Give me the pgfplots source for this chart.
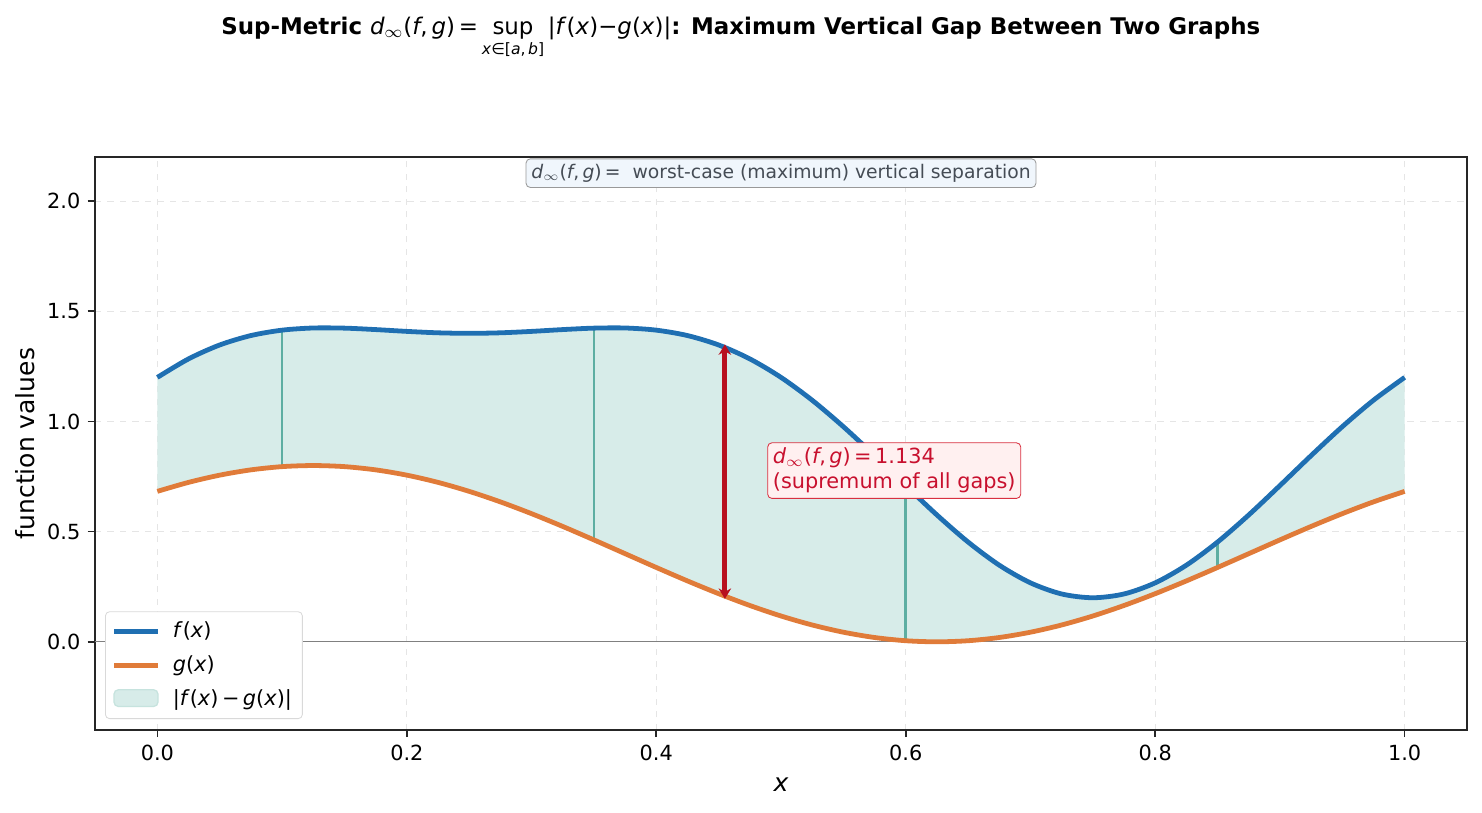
\documentclass[border=0pt]{standalone}
\usepackage{fontspec}
\setmainfont{DejaVu Sans}
\usepackage{pgfplots}
\usepackage{pgfplotstable}
\pgfplotsset{compat=1.18}
\usepgfplotslibrary{fillbetween}
\usetikzlibrary{arrows.meta}
\definecolor{fblue}{HTML}{1F6FB2}
\definecolor{gorange}{HTML}{E07B39}
\definecolor{fillteal}{HTML}{D7ECE9}
\definecolor{vteal}{HTML}{5DAEA2}
\definecolor{arrred}{HTML}{B8101F}
\definecolor{boxred}{HTML}{D83040}
\definecolor{txtred}{HTML}{C8102E}
\definecolor{boxblue}{HTML}{F0F6FC}
\definecolor{txtgray}{HTML}{454C55}
\newcommand{\mi}[1]{\textit{#1}}
\newcommand{\dinf}{\mi{d}$_\infty$(\mi{f},\,\mi{g})}
\pgfplotsset{my line legend/.style={legend image code/.code={\draw[##1] (0cm,0cm) -- (0.74cm,0cm);}}}
\pgfplotstableread{
x f g
0.000 1.20000 0.68284
0.025 1.28407 0.72361
0.050 1.34721 0.75640
0.075 1.38995 0.78042
0.100 1.41447 0.79508
0.125 1.42427 0.80000
0.150 1.42361 0.79508
0.175 1.41705 0.78042
0.200 1.40884 0.75640
0.225 1.40240 0.72361
0.250 1.40000 0.68284
0.275 1.40240 0.63512
0.300 1.40884 0.58160
0.325 1.41705 0.52361
0.350 1.42361 0.46257
0.375 1.42427 0.40000
0.400 1.41447 0.33743
0.425 1.38995 0.27639
0.450 1.34721 0.21840
0.475 1.28407 0.16488
0.500 1.20000 0.11716
0.525 1.09635 0.07639
0.550 0.97639 0.04360
0.575 0.84517 0.01958
0.600 0.70913 0.00492
0.625 0.57573 0.00000
0.650 0.45279 0.00492
0.675 0.34783 0.01958
0.700 0.26756 0.04360
0.725 0.21718 0.07639
0.750 0.20000 0.11716
0.775 0.21718 0.16488
0.800 0.26756 0.21840
0.825 0.34783 0.27639
0.850 0.45279 0.33743
0.875 0.57573 0.40000
0.900 0.70913 0.46257
0.925 0.84517 0.52361
0.950 0.97639 0.58160
0.975 1.09635 0.63512
1.000 1.20000 0.68284
}\datatable
\begin{document}
\begin{tikzpicture}
\begin{axis}[
  scale only axis, width=658.6pt, height=275pt,
  xmin=-0.05, xmax=1.05, ymin=-0.4, ymax=2.2,
  xtick={0,0.2,0.4,0.6,0.8,1.0},
  ytick={0,0.5,1,1.5,2},
  xtick pos=left, ytick pos=left,
  /pgf/number format/assume math mode=true,
  /pgf/number format/fixed, /pgf/number format/fixed zerofill, /pgf/number format/precision=1,
  ticklabel style={font=\fontsize{10}{12}\selectfont},
  tick align=outside, major tick length=3.5pt,
  tick style={black!85, line width=0.8pt},
  axis line style={black!85, line width=0.8pt},
  grid=major, grid style={dashed, color=black!10, line width=0.6pt},
  xlabel={\mi{x}}, ylabel={function values},
  every axis x label/.style={at={(axis description cs:0.5,0)}, yshift=-26.4pt, anchor=center, font=\fontsize{12}{14}\selectfont},
  every axis y label/.style={at={(axis description cs:0,0.5)}, xshift=-33.6pt, rotate=90, anchor=center, font=\fontsize{12}{14}\selectfont},
  legend style={at={(rel axis cs:0.0073,0.019)}, anchor=south west, draw=black!15, rounded corners=2pt,
    font=\fontsize{10}{12}\selectfont, row sep=3pt, inner sep=3pt, fill=white},
  legend cell align=left,
]
\addplot[gray, line width=0.4pt, forget plot] coordinates {(-0.05,0) (1.05,0)};
\addplot[draw=none, name path=F, forget plot] table[x=x,y=f]{\datatable};
\addplot[draw=none, name path=G, forget plot] table[x=x,y=g]{\datatable};
\addplot[fill=fillteal, draw=none, forget plot] fill between[of=F and G];
\addplot[vteal, line width=1.2pt, forget plot] coordinates {(0.1,0.79508) (0.1,1.41447)};
\addplot[vteal, line width=1.2pt, forget plot] coordinates {(0.35,0.46257) (0.35,1.42361)};
\addplot[vteal, line width=1.2pt, forget plot] coordinates {(0.6,0.00492) (0.6,0.70913)};
\addplot[vteal, line width=1.2pt, forget plot] coordinates {(0.85,0.33743) (0.85,0.45279)};
\addplot[fblue, line width=2.3pt, smooth, my line legend] table[x=x,y=f]{\datatable};
\addlegendentry{\hspace{4pt}\mi{f}(\mi{x})}
\addplot[gorange, line width=2.3pt, smooth, my line legend] table[x=x,y=g]{\datatable};
\addlegendentry{\hspace{4pt}\mi{g}(\mi{x})}
\addplot[arrred, line width=2.3pt, {Stealth[length=5pt,width=6pt]}-{Stealth[length=5pt,width=6pt]}, forget plot] coordinates {(0.455,0.195) (0.455,1.35)};
\addlegendimage{legend image code/.code={\draw[fill=fillteal, draw=vteal!35, line width=0.6pt] (0cm,-0.13cm) rectangle (0.74cm,0.15cm);}}
\addlegendentry{\hspace{4pt}|\mi{f}(\mi{x})\,−\,\mi{g}(\mi{x})|}
\node[anchor=center, fill=boxblue, draw=black!40, rounded corners=2pt, text=txtgray, font=\fontsize{9}{11}\selectfont, inner sep=2.5pt] at (axis cs:0.5,2.127) {\dinf\,=\ \ worst-case (maximum) vertical separation};
\node[anchor=west, fill=red!6, draw=boxred, rounded corners=2pt, text=txtred, font=\fontsize{10}{12}\selectfont, align=left, inner sep=2.5pt] at (axis cs:0.489,0.777) {\dinf\,=\,1.134\\(supremum of all gaps)};
\end{axis}
\node[anchor=base, font=\fontsize{11}{13}\selectfont] at (310pt,334pt) {\bfseries Sup-Metric {\normalfont\dinf\,=\,$\mathop{\mbox{\normalfont sup}}\limits_{\mbox{\fontsize{7.5}{8}\selectfont\normalfont\mi{x}∈[\mi{a},\,\mi{b}]}}$\,|\mi{f}(\mi{x})−\mi{g}(\mi{x})|}: Maximum Vertical Gap Between Two Graphs};
\path (-45.6pt,-39.4pt) rectangle (665.8pt,350.4pt);
\end{tikzpicture}
\end{document}
